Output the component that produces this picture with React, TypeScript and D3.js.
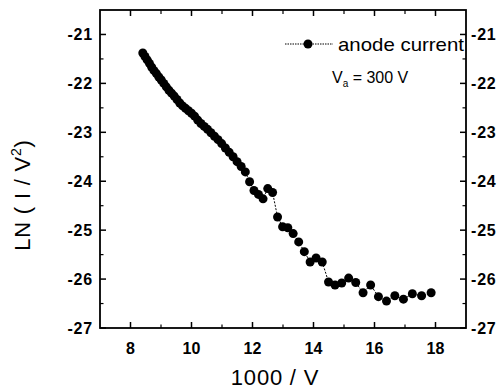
import * as d3 from "d3";

// 1000/V values (V stepped by 1 V, from 119 V down to 56 V)
const xValues = [
  8.403, 8.475, 8.547, 8.621, 8.696, 8.772, 8.85, 8.929, 9.009, 9.091,
  9.174, 9.259, 9.346, 9.434, 9.524, 9.615, 9.709, 9.804, 9.901, 10.0,
  10.101, 10.204, 10.309, 10.417, 10.526, 10.638, 10.753, 10.87, 10.989,
  11.111, 11.236, 11.364, 11.494, 11.628, 11.765, 11.905, 12.048, 12.195,
  12.346, 12.5, 12.658, 12.821, 12.987, 13.158, 13.333, 13.514, 13.699,
  13.889, 14.085, 14.286, 14.493, 14.706, 14.925, 15.152, 15.385, 15.625,
  15.873, 16.129, 16.393, 16.667, 16.949, 17.241, 17.544, 17.857,
];

// LN(I/V^2)
const yValues = [
  -21.38, -21.45, -21.52, -21.59, -21.67, -21.74, -21.8, -21.87, -21.93,
  -22.0, -22.07, -22.14, -22.2, -22.26, -22.33, -22.4, -22.46, -22.51,
  -22.56, -22.61, -22.67, -22.75, -22.82, -22.88, -22.94, -23.01, -23.08,
  -23.15, -23.23, -23.32, -23.41, -23.5, -23.6, -23.7, -23.81, -24.01,
  -24.19, -24.27, -24.36, -24.15, -24.23, -24.73, -24.93, -24.95, -25.07,
  -25.24, -25.44, -25.65, -25.57, -25.65, -26.06, -26.12, -26.08, -25.98,
  -26.07, -26.28, -26.12, -26.36, -26.45, -26.34, -26.41, -26.3, -26.34,
  -26.28,
];

const xTicks = [8, 10, 12, 14, 16, 18];
const xMinorTicks = [9, 11, 13, 15, 17];
const yTicks = [-21, -22, -23, -24, -25, -26, -27];
const yMinorTicks = [-21.5, -22.5, -23.5, -24.5, -25.5, -26.5];

const W = 502;
const H = 389;
const font = "'Liberation Sans', Arial, sans-serif";

export default function App() {
  const x = d3.scaleLinear().domain([7, 19]).range([100, 466]);
  const y = d3.scaleLinear().domain([-27, -20.5]).range([328, 10]);
  const [x0, x1] = x.range();
  const [y0, y1] = y.range();

  const points = xValues.map((v, i) => [v, yValues[i]] as [number, number]);
  const line = d3
    .line<[number, number]>()
    .x((d) => x(d[0]))
    .y((d) => y(d[1]));

  return (
    <svg
      width={W}
      height={H}
      style={{ position: "absolute", left: 0, top: 0, background: "#fff" }}
      fontFamily={font}
    >
      {/* data */}
      <path
        d={line(points) || ""}
        fill="none"
        stroke="#000"
        strokeWidth={1}
        strokeDasharray="2,1.5"
      />
      {points.map((d, i) => (
        <circle key={i} cx={x(d[0])} cy={y(d[1])} r={4.5} fill="#000" />
      ))}

      {/* frame */}
      <rect
        x={x0}
        y={y1}
        width={x1 - x0}
        height={y0 - y1}
        fill="none"
        stroke="#000"
        strokeWidth={1.8}
      />

      {/* x ticks bottom & top */}
      {xTicks.map((t) => (
        <g key={"xt" + t}>
          <line x1={x(t)} x2={x(t)} y1={y0} y2={y0 - 6} stroke="#000" strokeWidth={1.5} />
          <line x1={x(t)} x2={x(t)} y1={y1} y2={y1 + 6} stroke="#000" strokeWidth={1.5} />
          <text
            x={x(t)}
            y={y0 + 26}
            textAnchor="middle"
            fontSize={16}
            fontWeight="bold"
          >
            {t}
          </text>
        </g>
      ))}
      {xMinorTicks.map((t) => (
        <g key={"xm" + t}>
          <line x1={x(t)} x2={x(t)} y1={y0} y2={y0 - 3.5} stroke="#000" strokeWidth={1.2} />
          <line x1={x(t)} x2={x(t)} y1={y1} y2={y1 + 4} stroke="#000" strokeWidth={1.2} />
        </g>
      ))}

      {/* y ticks left & right */}
      {yTicks.map((t) => (
        <g key={"yt" + t}>
          <line x1={x0} x2={x0 + 6} y1={y(t)} y2={y(t)} stroke="#000" strokeWidth={1.5} />
          <line x1={x1} x2={x1 - 6} y1={y(t)} y2={y(t)} stroke="#000" strokeWidth={1.5} />
          <text
            x={x0 - 7}
            y={y(t) + 6}
            textAnchor="end"
            fontSize={16}
            fontWeight="bold"
            letterSpacing={0.8}
          >
            {t}
          </text>
          <text
            x={x1 + 5}
            y={y(t) + 6}
            textAnchor="start"
            fontSize={16}
            fontWeight="bold"
            letterSpacing={0.8}
          >
            {t}
          </text>
        </g>
      ))}
      {yMinorTicks.map((t) => (
        <g key={"ym" + t}>
          <line x1={x0} x2={x0 + 3.5} y1={y(t)} y2={y(t)} stroke="#000" strokeWidth={1.2} />
          <line x1={x1} x2={x1 - 3.5} y1={y(t)} y2={y(t)} stroke="#000" strokeWidth={1.2} />
        </g>
      ))}

      {/* axis titles */}
      <text x={(x0 + x1) / 2 - 8} y={385} textAnchor="middle" fontSize={22} letterSpacing={0.8}>
        1000 / V
      </text>
      <text
        transform={`translate(30,${(y0 + y1) / 2 + 26}) rotate(-90)`}
        textAnchor="middle"
        fontSize={22}
        letterSpacing={0.8}
      >
        LN ( I / V<tspan dy={-9} fontSize={14}>2</tspan>
        <tspan dy={9}>)</tspan>
      </text>

      {/* legend */}
      <line x1={285} x2={333} y1={44} y2={44} stroke="#000" strokeWidth={1} strokeDasharray="1.5,1" />
      <circle cx={308} cy={44} r={4.5} fill="#000" />
      <text x={338} y={51} fontSize={19} textLength={126} lengthAdjust="spacingAndGlyphs">
        anode current
      </text>
      <text x={332} y={83} fontSize={16}>
        V<tspan dy={4} fontSize={10}>a</tspan>
        <tspan dy={-4}> = 300 V</tspan>
      </text>
    </svg>
  );
}
